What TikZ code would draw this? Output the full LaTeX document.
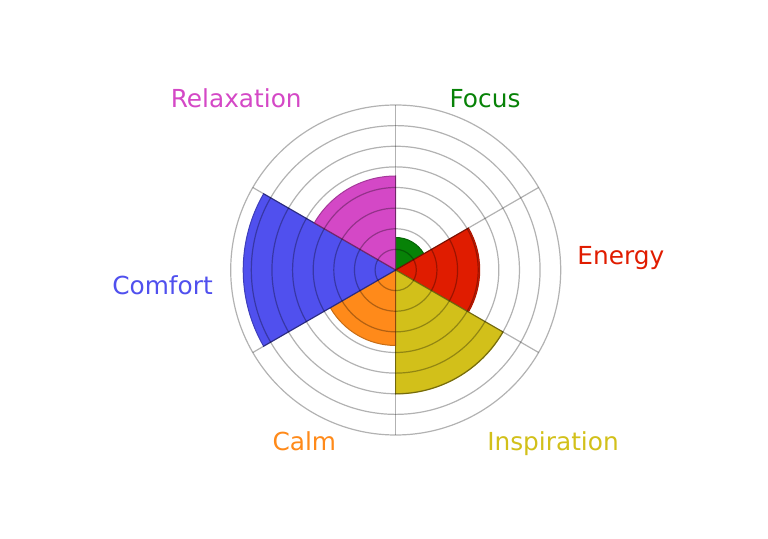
\documentclass[tikz,border=0pt]{standalone}
\usepackage{fontspec}
\setmainfont{DejaVu Sans}
\definecolor{cfocus}{HTML}{078207}
\definecolor{cenergy}{HTML}{E01C00}
\definecolor{cinsp}{HTML}{D2C01A}
\definecolor{ccalm}{HTML}{FF8A1A}
\definecolor{ccomf}{HTML}{5050EE}
\definecolor{crelax}{HTML}{D448C6}
\begin{document}
\begin{tikzpicture}[x=1pt,y=1pt,
  sector/.style={fill=#1, draw=#1!78!black, line width=1pt, line join=miter},
  gridline/.style={draw=black, draw opacity=0.3, line width=1.2pt},
  lbl/.style={text=#1, anchor=base, inner sep=0pt, font=\fontsize{24.8}{29}\selectfont}]
\useasboundingbox (0,0) rectangle (768,538);
\coordinate (O) at (395.7,268);
% sectors
\draw[sector=cfocus]  (O) -- ++(90:32.5)  arc[start angle=90,  end angle=30,   radius=32.5]  -- cycle;
\draw[sector=cenergy] (O) -- ++(30:84)    arc[start angle=30,  end angle=-30,  radius=84]    -- cycle;
\draw[sector=cinsp]   (O) -- ++(-30:124)  arc[start angle=-30, end angle=-90,  radius=124]   -- cycle;
\draw[sector=ccalm]   (O) -- ++(-90:75.5) arc[start angle=-90, end angle=-150, radius=75.5]  -- cycle;
\draw[sector=ccomf]   (O) -- ++(150:152.5) arc[start angle=150, end angle=210, radius=152.5] -- cycle;
\draw[sector=crelax]  (O) -- ++(90:94)    arc[start angle=90,  end angle=150,  radius=94]    -- cycle;
% grid
\foreach \k in {1,...,8} {
  \draw[gridline] (O) circle[radius=20.625*\k];
}
\foreach \a in {90,30,-30,-90,-150,150} {
  \draw[gridline] (O) -- ++(\a:165);
}
% labels
\node[lbl=crelax]  (lrelax) at (236.2,430.7) {Relaxation};
\node[lbl=cfocus]  (lfocus) at (485,430.7) {Focus};
\node[lbl=cenergy] (lenergy) at (620.8,273.7) {Energy};
\node[lbl=ccomf]   (lcomf) at (162.5,243.7) {Comfort};
\node[lbl=ccalm]   (lcalm) at (304.3,87) {Calm};
\node[lbl=cinsp]   (linsp) at (553,87) {Inspiration};
\end{tikzpicture}
\end{document}
